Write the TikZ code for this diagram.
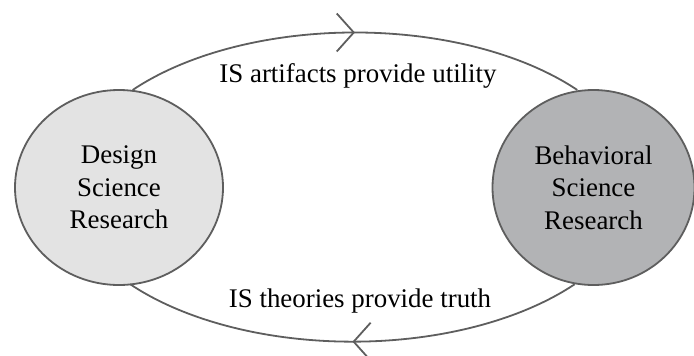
\documentclass[tikz,border=0pt]{standalone}
\usepackage{fontspec}
\setmainfont{Liberation Serif}
\usetikzlibrary{arrows.meta,shapes.geometric,decorations.markings}
\definecolor{dsrgray}{HTML}{E3E3E3}
\definecolor{bsrgray}{HTML}{B2B3B5}
\definecolor{rimgray}{HTML}{5E5E5E}

\begin{document}
\begin{tikzpicture}[x=1bp,y=1bp,
 every node/.style={font=\fontsize{27}{32.5}\selectfont,align=center},
 field/.style={ellipse,draw=rimgray,line width=1.8bp,inner sep=0pt,minimum height=195bp},
 loopline/.style={draw=rimgray,line width=1.8bp,postaction={decorate},
  decoration={markings,mark=at position .5 with {\arrow{Straight Barb[length=17bp,width=38bp]}}}},
 claim/.style={anchor=base}]
\useasboundingbox (0,0) rectangle (694,355);
\node[field,fill=dsrgray,minimum width=208bp] (dsr) at (119,167.5) {Design\\Science\\Research};
\node[field,fill=bsrgray,minimum width=202bp] (bsr) at (593.5,167.5) {Behavioral\\Science\\Research};
\draw[loopline] (dsr.82) arc[start angle=141,end angle=39,x radius=286,y radius=155];
\draw[loopline] (bsr.259) arc[start angle=-39,end angle=-141,x radius=286,y radius=155];
\node[claim] (utility) at (358,273) {IS artifacts provide utility};
\node[claim] (truth) at (360,48) {IS theories provide truth};
\end{tikzpicture}
\end{document}
